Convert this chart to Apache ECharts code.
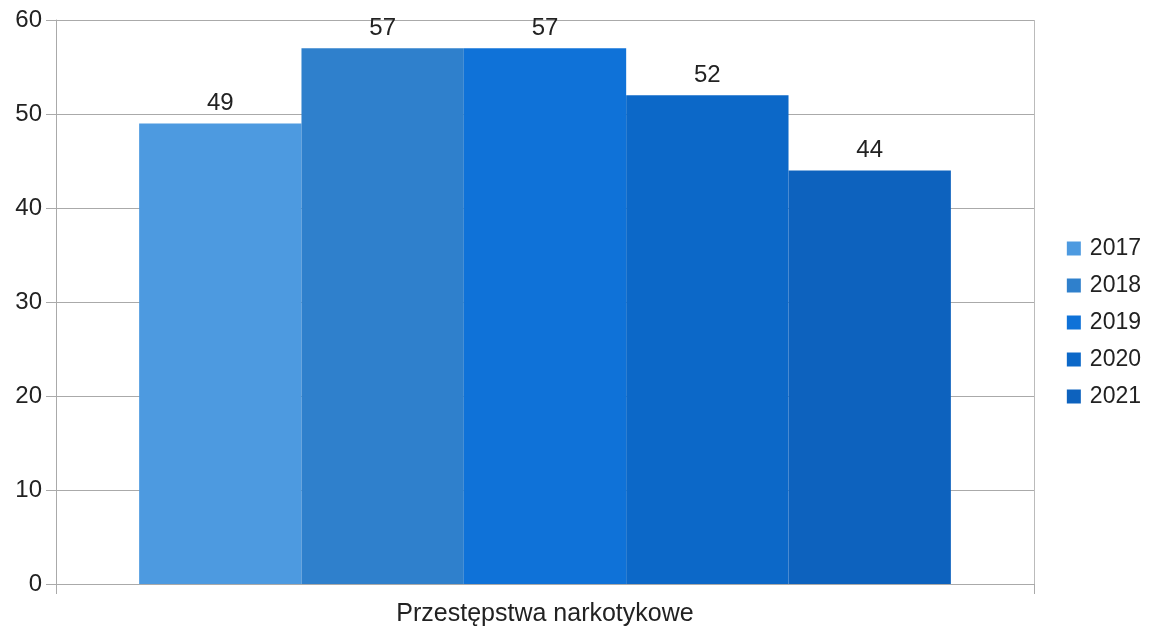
<!DOCTYPE html>
<html>
<head>
<meta charset="utf-8">
<script src="https://cdn.jsdelivr.net/npm/echarts@6/dist/echarts.min.js"></script>
<style>
  html, body { margin: 0; padding: 0; background: #fff; }
  #chart { width: 1152px; height: 632px; }
</style>
</head>
<body>
<div id="chart"></div>
<script>
var categories = ['Przestępstwa narkotykowe'];
var years = ['2017', '2018', '2019', '2020', '2021'];
var values = [49, 57, 57, 52, 44];
var colors = ['#4d9ae0', '#2f80cc', '#0f72d8', '#0c68c8', '#0d62be'];
var yTicks = { min: 0, max: 60, interval: 10 };

var myChart = echarts.init(document.getElementById('chart'));

var series = [];
for (var i = 0; i < years.length; i++) {
  series.push({
    name: years[i],
    type: 'bar',
    data: [values[i]],
    barGap: '0%',
    barCategoryGap: '17%',
    itemStyle: { color: colors[i] },
    label: {
      show: true,
      position: 'top',
      distance: 8,
      color: '#222',
      fontSize: 24,
      fontFamily: 'Liberation Sans'
    }
  });
}

var option = {
  backgroundColor: '#fff',
  animation: false,
  textStyle: { fontFamily: 'Liberation Sans' },
  grid: { left: 56, right: 118, top: 20, bottom: 48 },
  legend: {
    orient: 'vertical',
    right: 6,
    top: 232,
    itemWidth: 14,
    itemHeight: 14,
    itemGap: 14,
    icon: 'rect',
    textStyle: { fontSize: 23, color: '#222', fontFamily: 'Liberation Sans', padding: [0, 0, 0, 4] },
    data: years
  },
  xAxis: {
    type: 'category',
    data: categories,
    axisLine: { show: true, lineStyle: { color: '#aaa' } },
    axisTick: { show: true, length: 10, alignWithLabel: false, lineStyle: { color: '#aaa' } },
    axisLabel: { fontSize: 25, color: '#222', margin: 18 },
    splitLine: { show: true, lineStyle: { color: '#bbb' } }
  },
  yAxis: {
    type: 'value',
    min: yTicks.min,
    max: yTicks.max,
    interval: yTicks.interval,
    axisLine: { show: true, lineStyle: { color: '#aaa' } },
    axisTick: { show: true, length: 10, lineStyle: { color: '#aaa' } },
    axisLabel: { fontSize: 24, color: '#222', margin: 14 },
    splitLine: { show: true, lineStyle: { color: '#aaa' } }
  },
  series: series
};

myChart.setOption(option);
</script>
</body>
</html>
